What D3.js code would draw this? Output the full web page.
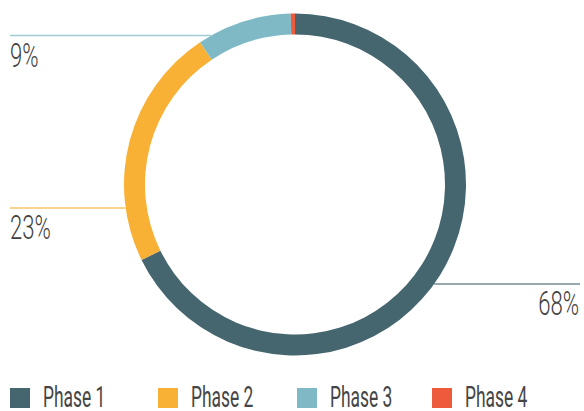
<!DOCTYPE html>
<html>
<head>
<meta charset="utf-8">
<script src="https://cdn.jsdelivr.net/npm/d3@7"></script>
<style>
  html, body { margin: 0; padding: 0; background: #fff; }
  svg { display: block; }
  text { font-family: Roboto, "Noto Sans", sans-serif; font-weight: 400; fill: #454545; }
  text.share { font-weight: 300; fill: #3f3f3f; }
</style>
</head>
<body>
<svg id="chart" width="584" height="411"></svg>
<script>
// Project share by phase
const phases = ["Phase 1", "Phase 2", "Phase 3", "Phase 4"];
const shares = [68, 23, 9, 0.4];
const colors = ["#45666f", "#f8b135", "#7fb9c5", "#ee5b3c"];
// Which slices carry a callout, and the row of each callout line
const calloutPhases = ["Phase 1", "Phase 2", "Phase 3"];
const calloutRows = [284, 208, 35.5];

const W = 584, H = 411;
const cx = 295, cy = 184.5;
const outerR = 171, innerR = 150;
const fontSize = 30, squeeze = 0.58;
const shareSize = 33, shareSqueeze = 0.67;

const svg = d3.select("#chart");
const data = phases.map((p, i) => ({ phase: p, value: shares[i] }));
const color = d3.scaleOrdinal().domain(phases).range(colors);

const pie = d3.pie().sort(null).value(d => d.value);
const arc = d3.arc().innerRadius(innerR).outerRadius(outerR);
const arcs = pie(data);

const g = svg.append("g").attr("transform", `translate(${cx},${cy})`);
g.selectAll("path")
  .data(arcs)
  .join("path")
  .attr("d", arc)
  .attr("fill", d => color(d.data.phase));

// Callouts: a horizontal rule from the ring's outer edge to the page margin
// on the slice's side, with the share written beneath it.
const margin = 10;
calloutPhases.forEach((p, i) => {
  const a = arcs.find(e => e.data.phase === p);
  const mid = (a.startAngle + a.endAngle) / 2;
  const right = Math.sin(mid) > 0;
  const y = calloutRows[i];
  const dy = y - cy;
  const dx = Math.sqrt(outerR * outerR - dy * dy);
  const x0 = right ? cx + dx : margin;
  const x1 = right ? W - 4 : cx - dx;
  svg.append("line")
    .attr("x1", x0).attr("x2", x1)
    .attr("y1", y).attr("y2", y)
    .attr("stroke", color(p))
    .attr("stroke-opacity", 0.75)
    .attr("stroke-width", 1.4);
  const tx = right ? W - 5 : margin;
  svg.append("text")
    .attr("class", "share")
    .attr("transform", `translate(${tx},${y + 31}) scale(${shareSqueeze},1)`)
    .attr("text-anchor", right ? "end" : "start")
    .attr("font-size", shareSize)
    .text(d3.format(".0f")(a.data.value) + "%");
});

// Legend along the bottom
const legendX = [10, 158, 297, 432];
const legend = svg.append("g").attr("transform", `translate(0,388)`);
const items = legend.selectAll("g")
  .data(phases)
  .join("g")
  .attr("transform", (d, i) => `translate(${legendX[i]},0)`);
items.append("rect")
  .attr("width", 20).attr("height", 20)
  .attr("fill", d => color(d));
items.append("text")
  .attr("transform", `translate(33,19) scale(${squeeze},1)`)
  .attr("font-size", fontSize)
  .text(d => d);
</script>
</body>
</html>
